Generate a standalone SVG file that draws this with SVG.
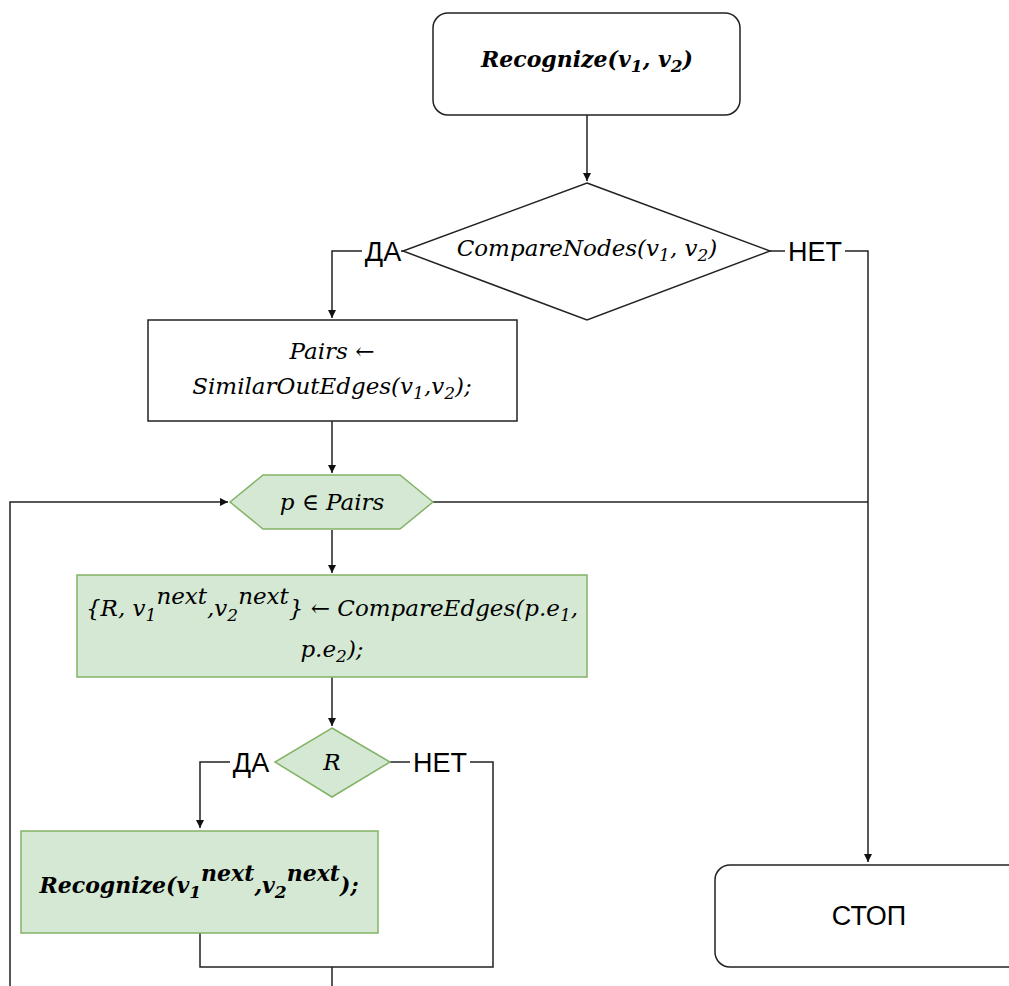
<svg xmlns="http://www.w3.org/2000/svg" width="1009" height="986" viewBox="0 0 1009 986">
<style>
.n{fill:#fff;stroke:#222;stroke-width:1.5}
.g{fill:#d5e8d4;stroke:#82b366;stroke-width:1.5}
.e{fill:none;stroke:#222;stroke-width:1.5}
.m{font-family:"DejaVu Serif","Liberation Serif",serif;font-style:italic;font-size:23px;fill:#000}
.b{font-weight:bold;font-size:22px}
.s{font-size:17px}
.lbl{font-family:"Liberation Sans",Arial,sans-serif;font-size:27px;fill:#000}
</style>
<defs>
<marker id="a" viewBox="0 0 10 10" refX="10" refY="5" markerWidth="8" markerHeight="8" markerUnits="userSpaceOnUse" orient="auto">
<path d="M0,0 L10,5 L0,10 Z" fill="#111"/>
</marker>
</defs>
<rect width="1009" height="986" fill="#fff"/>
<g id="connectors">
<path class="e" d="M362,251 H332 V318" marker-end="url(#a)"/>
<path class="e" d="M587,115 V181" marker-end="url(#a)"/>
<path class="e" d="M403,251 H401"/>
<path class="e" d="M770,251 H785"/>
<path class="e" d="M845,251 H868 V862" marker-end="url(#a)"/>
<path class="e" d="M332,421 V473" marker-end="url(#a)"/>
<path class="e" d="M433,502 H868"/>
<path class="e" d="M332,530 V573" marker-end="url(#a)"/>
<path class="e" d="M332,677 V726" marker-end="url(#a)"/>
<path class="e" d="M230,762 H200 V828" marker-end="url(#a)"/>
<path class="e" d="M390,762 H410"/>
<path class="e" d="M470,762 H493 V967 H200 V933"/>
<path class="e" d="M332,967 V990"/>
<path class="e" d="M10,990 V502 H228" marker-end="url(#a)"/>
<text class="lbl" x="383" y="261" text-anchor="middle">ДА</text>
<text class="lbl" x="815" y="261" text-anchor="middle">НЕТ</text>
<text class="lbl" x="251" y="772" text-anchor="middle">ДА</text>
<text class="lbl" x="440" y="772" text-anchor="middle">НЕТ</text>
</g>
<g id="start">
<rect class="n" x="433" y="13" width="307" height="102" rx="15"/>
<text class="m b" x="587" y="67" text-anchor="middle">Recognize(v<tspan class="s" dy="5">1</tspan><tspan dy="-5">, v</tspan><tspan class="s" dy="5">2</tspan><tspan dy="-5">)</tspan></text>
</g>
<g id="compareNodes">
<polygon class="n" points="587,183 770,251 587,320 403,251"/>
<text class="m" x="587" y="256" text-anchor="middle">CompareNodes(v<tspan class="s" dy="5">1</tspan><tspan dy="-5">, v</tspan><tspan class="s" dy="5">2</tspan><tspan dy="-5">)</tspan></text>
</g>
<g id="pairs">
<rect class="n" x="148" y="320" width="369" height="101"/>
<text class="m" x="332" y="359" text-anchor="middle">Pairs ←</text>
<text class="m" x="332" y="394" text-anchor="middle">SimilarOutEdges(v<tspan class="s" dy="5">1</tspan><tspan dy="-5">,v</tspan><tspan class="s" dy="5">2</tspan><tspan dy="-5">);</tspan></text>
</g>
<g id="loop">
<polygon class="g" points="230,502 263,475 400,475 433,502 400,529 263,529"/>
<text class="m" x="332" y="510" text-anchor="middle">p ∈ Pairs</text>
</g>
<g id="compareEdges">
<rect class="g" x="77" y="575" width="510" height="102"/>
<text class="m" x="332" y="616" text-anchor="middle">{R, v<tspan class="s" dy="5">1</tspan><tspan dy="-17">next</tspan><tspan dy="12">,v</tspan><tspan class="s" dy="5">2</tspan><tspan dy="-17">next</tspan><tspan dy="12">} ← CompareEdges(p.e</tspan><tspan class="s" dy="5">1</tspan><tspan dy="-5">,</tspan></text>
<text class="m" x="332" y="657" text-anchor="middle">p.e<tspan class="s" dy="5">2</tspan><tspan dy="-5">);</tspan></text>
</g>
<g id="checkR">
<polygon class="g" points="332,728 390,762 332,797 275,762"/>
<text class="m" x="332" y="770" text-anchor="middle">R</text>
</g>
<g id="recurse">
<rect class="g" x="21" y="831" width="357" height="102"/>
<text class="m b" x="199" y="893" text-anchor="middle">Recognize(v<tspan class="s" dy="5">1</tspan><tspan dy="-17">next</tspan><tspan dy="12">,v</tspan><tspan class="s" dy="5">2</tspan><tspan dy="-17">next</tspan><tspan dy="12">);</tspan></text>
</g>
<g id="stop">
<rect class="n" x="715" y="865" width="310" height="102" rx="15"/>
<text class="lbl" x="869" y="925" text-anchor="middle">СТОП</text>
</g>
</svg>
